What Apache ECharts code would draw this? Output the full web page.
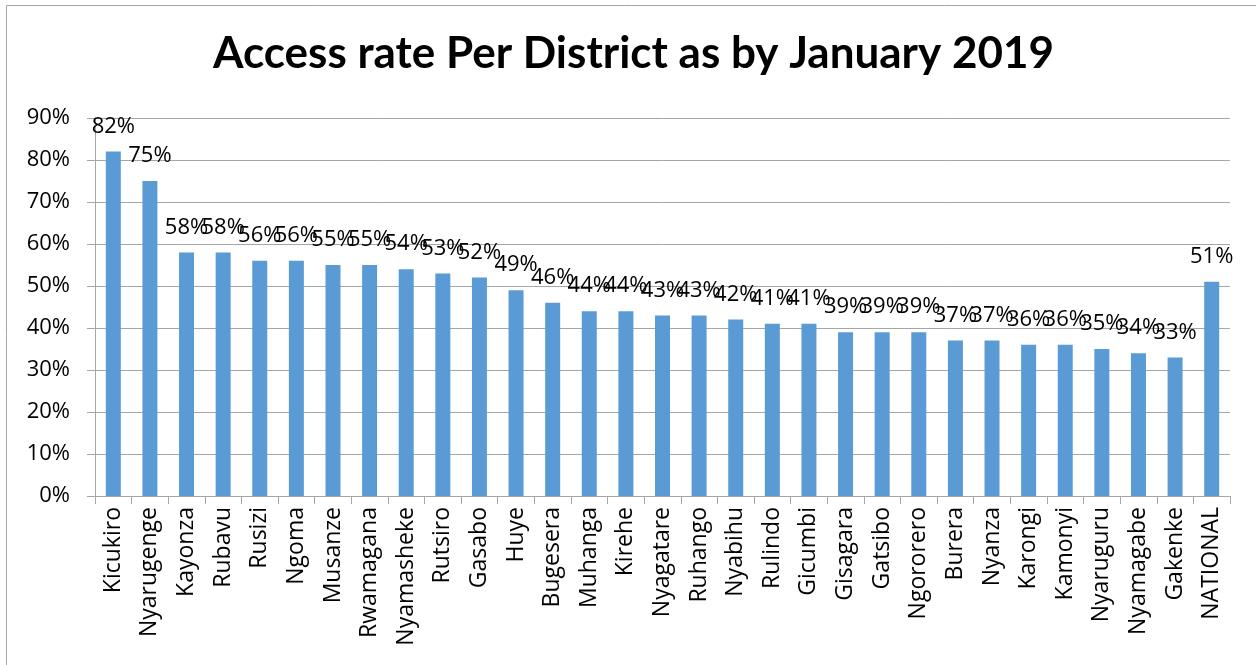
<!DOCTYPE html>
<html>
<head>
<meta charset="utf-8">
<script src="https://cdn.jsdelivr.net/npm/echarts@6/dist/echarts.min.js"></script>
<style>
  html, body { margin: 0; padding: 0; background: #fff; }
  #chart { width: 1256px; height: 665px; }
</style>
</head>
<body>
<div id="chart"></div>
<script>
// Districts, ordered by access rate, with the national figure last
const districts = ['Kicukiro', 'Nyarugenge', 'Kayonza', 'Rubavu', 'Rusizi', 'Ngoma', 'Musanze',
  'Rwamagana', 'Nyamasheke', 'Rutsiro', 'Gasabo', 'Huye', 'Bugesera', 'Muhanga', 'Kirehe',
  'Nyagatare', 'Ruhango', 'Nyabihu', 'Rulindo', 'Gicumbi', 'Gisagara', 'Gatsibo', 'Ngororero',
  'Burera', 'Nyanza', 'Karongi', 'Kamonyi', 'Nyaruguru', 'Nyamagabe', 'Gakenke', 'NATIONAL'];
// Access rate in percent
const accessRate = [82, 75, 58, 58, 56, 56, 55, 55, 54, 53, 52, 49, 46, 44, 44, 43, 43, 42, 41, 41,
  39, 39, 39, 37, 37, 36, 36, 35, 34, 33, 51];
const chartTitle = 'Access rate Per District as by January 2019';

const titleFont = 'Lato, sans-serif';
const font = '"Open Sans", sans-serif';
const chart = echarts.init(document.getElementById('chart'));
chart.setOption({
  animation: false,
  backgroundColor: '#ffffff',
  graphic: [{
    type: 'polyline',
    shape: { points: [[6.5, 700], [6.5, 5.5], [1300, 5.5]] },
    style: { stroke: '#a6a6a6', lineWidth: 1, fill: null }
  }],
  title: {
    text: chartTitle,
    left: 208,
    top: 27,
    textStyle: { fontFamily: titleFont, fontWeight: 'bold', fontSize: 44, color: '#000' }
  },
  grid: { left: 95, right: 26, top: 118, bottom: 169 },
  xAxis: {
    type: 'category',
    data: districts,
    axisLine: { lineStyle: { color: '#a6a6a6', width: 1 } },
    axisTick: { show: true, length: 8, alignWithLabel: false, lineStyle: { color: '#a6a6a6' } },
    axisLabel: {
      rotate: 90, interval: 0, margin: 11,
      fontFamily: font, fontSize: 23, color: '#000'
    }
  },
  yAxis: {
    type: 'value',
    min: 0, max: 90, interval: 10,
    axisLine: { show: true, lineStyle: { color: '#a6a6a6', width: 1 } },
    axisTick: { show: true, length: 8, lineStyle: { color: '#a6a6a6' } },
    axisLabel: {
      formatter: v => v + '%', margin: 25,
      fontFamily: font, fontSize: 22, color: '#000'
    },
    splitLine: { lineStyle: { color: '#a6a6a6', width: 1 } }
  },
  series: [{
    type: 'bar',
    data: accessRate,
    barWidth: 15,
    itemStyle: { color: '#5b9bd5' },
    label: {
      show: true, position: 'top', distance: 14,
      formatter: p => p.value + '%',
      fontFamily: font, fontSize: 22, color: '#000'
    }
  }]
});
</script>
</body>
</html>
